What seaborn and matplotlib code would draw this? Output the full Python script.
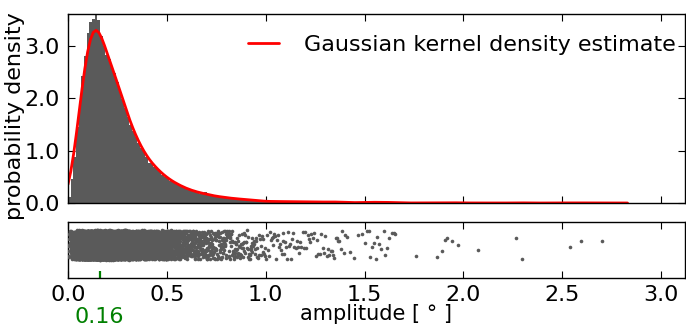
import numpy as np
import matplotlib
matplotlib.use("Agg")
import matplotlib.pyplot as plt
import seaborn as sns

# ---- data ----
BIN_W = 0.0135          # histogram bin width
N0 = 8000               # approx. number of samples in the core
# density of each histogram bin from 0.0 to 1.0 (74 bins)
hist_density = [
    0.11, 0.45, 0.85, 1.42, 1.85, 2.35, 2.72, 3.15, 3.35, 3.42,
    3.52, 3.40, 3.10, 2.92, 2.75, 2.68, 2.50, 2.42, 2.25, 2.08,
    1.93, 1.76, 1.60, 1.45, 1.33, 1.22, 1.12, 1.02, 0.94, 0.86,
    0.74, 0.76, 0.68, 0.63, 0.57, 0.53, 0.49, 0.45, 0.42, 0.39,
    0.36, 0.34, 0.31, 0.29, 0.26, 0.25, 0.23, 0.21, 0.20, 0.18,
    0.17, 0.20, 0.15, 0.14, 0.13, 0.12, 0.115, 0.13, 0.10, 0.095,
    0.09, 0.085, 0.08, 0.07, 0.07, 0.075, 0.06, 0.055, 0.07, 0.05,
    0.045, 0.04, 0.04, 0.035,
]
# individual sparse samples beyond 1.0
tail_values = [
    1.003, 1.008, 1.011, 1.017, 1.022, 1.026, 1.031, 1.035, 1.038, 1.044,
    1.049, 1.053, 1.058, 1.062, 1.067, 1.071, 1.076, 1.081, 1.085, 1.089,
    1.094, 1.098, 1.104, 1.109, 1.113, 1.118, 1.124, 1.129, 1.134, 1.139,
    1.145, 1.151, 1.156, 1.162, 1.168, 1.173, 1.179, 1.186, 1.192, 1.198,
    1.205, 1.212, 1.219, 1.226, 1.231, 1.238, 1.246, 1.253, 1.259, 1.266,
    1.274, 1.281, 1.288, 1.296, 1.302, 1.309, 1.315, 1.321, 1.328, 1.334,
    1.341, 1.347, 1.353, 1.358, 1.366, 1.372, 1.379, 1.386, 1.394, 1.402,
    1.411, 1.428, 1.447, 1.469, 1.488, 1.503, 1.512, 1.521, 1.527, 1.536,
    1.548, 1.556, 1.562, 1.571, 1.583, 1.597, 1.604, 1.611, 1.622, 1.637,
    1.648, 1.655, 1.762, 1.864, 1.889, 1.906, 1.918, 1.943, 1.972, 2.072,
    2.268, 2.296, 2.541, 2.593, 2.700,
]
x_ticks = [0.0, 0.5, 1.0, 1.5, 2.0, 2.5, 3.0]
y_ticks = [0.0, 1.0, 2.0, 3.0]
mode_value = 0.16
legend_label = "Gaussian kernel density estimate"

# expand the histogram into samples (evenly inside each bin)
counts = np.round(np.array(hist_density) * N0 * BIN_W).astype(int)
parts = []
for i, c in enumerate(counts):
    if c > 0:
        parts.append(i * BIN_W + (np.arange(c) + 0.5) / c * BIN_W)
parts.append(np.array(tail_values))
samples = np.concatenate(parts)

GRAY = "#5a5a5a"
FS = 16

sns.set_style("ticks")
plt.rcParams["font.family"] = ["DejaVu Sans"]
for k in ("text.color", "axes.labelcolor", "xtick.color", "ytick.color",
          "axes.edgecolor"):
    plt.rcParams[k] = "black"
np.random.seed(3)

fig = plt.figure(figsize=(6.86, 3.26), dpi=100)
ax1 = fig.add_axes([0.0991, 0.3773, 0.8994, 0.5798])
ax2 = fig.add_axes([0.0991, 0.1472, 0.8994, 0.1718])

sns.histplot(x=samples, ax=ax1, binwidth=BIN_W, binrange=(0, 2.7),
             stat="density", color=GRAY, alpha=1, linewidth=0)
sns.kdeplot(x=samples, ax=ax1, color="red", lw=2, clip=(0, 2.85), cut=4,
            bw_adjust=0.9, label=legend_label)
ax1.legend(loc="upper right", bbox_to_anchor=(1.0, 0.935), frameon=False,
           fontsize=FS, handlelength=1.4, handletextpad=1.13,
           borderaxespad=0.0)

sns.stripplot(x=samples, ax=ax2, color=GRAY, size=2.6, jitter=0.26,
              linewidth=0)

for ax in (ax1, ax2):
    ax.set_xlim(0, 3.12)
    ax.set_xticks(x_ticks)
    for s in ax.spines.values():
        s.set_visible(True)
        s.set_color("black")
        s.set_linewidth(1.0)

ax1.set_ylim(0, 3.61)
ax1.set_yticks(y_ticks)
ax1.set_yticklabels([f"{v:.1f}" for v in y_ticks])
ax1.tick_params(direction="in", top=True, right=True, bottom=True, left=True,
                labelbottom=False, length=5, width=0.8, labelsize=FS, pad=6,
                colors="black")
ax1.set_xticks([mode_value], minor=True)
ax1.tick_params(axis="x", which="minor", direction="in", bottom=True, top=False,
                colors="green", length=5, width=1.6, labelbottom=False)
ax1.set_xlabel("")
ax1.set_ylabel("probability density", fontsize=FS, color="black")
ax1.yaxis.set_label_coords(-0.07, 0.46)

ax2.set_ylim(0.59, -0.41)
ax2.set_yticks([])
ax2.set_xticklabels([f"{v:.1f}" for v in x_ticks])
ax2.tick_params(axis="x", direction="in", top=True, bottom=True, length=5,
                width=0.8, labelsize=FS, pad=5, colors="black")
ax2.tick_params(axis="y", left=False, right=False)
ax2.set_xticks([mode_value], labels=[f"{mode_value:.2f}"], minor=True)
ax2.tick_params(axis="x", which="minor", direction="in", bottom=True, top=False,
                colors="green", length=5, width=1.6, labelsize=FS, pad=21)
ax2.set_xlabel("amplitude [ ° ]", fontsize=15, color="black")
ax2.xaxis.set_label_coords(0.5, -0.46)

fig.savefig("out.png", dpi=100)
